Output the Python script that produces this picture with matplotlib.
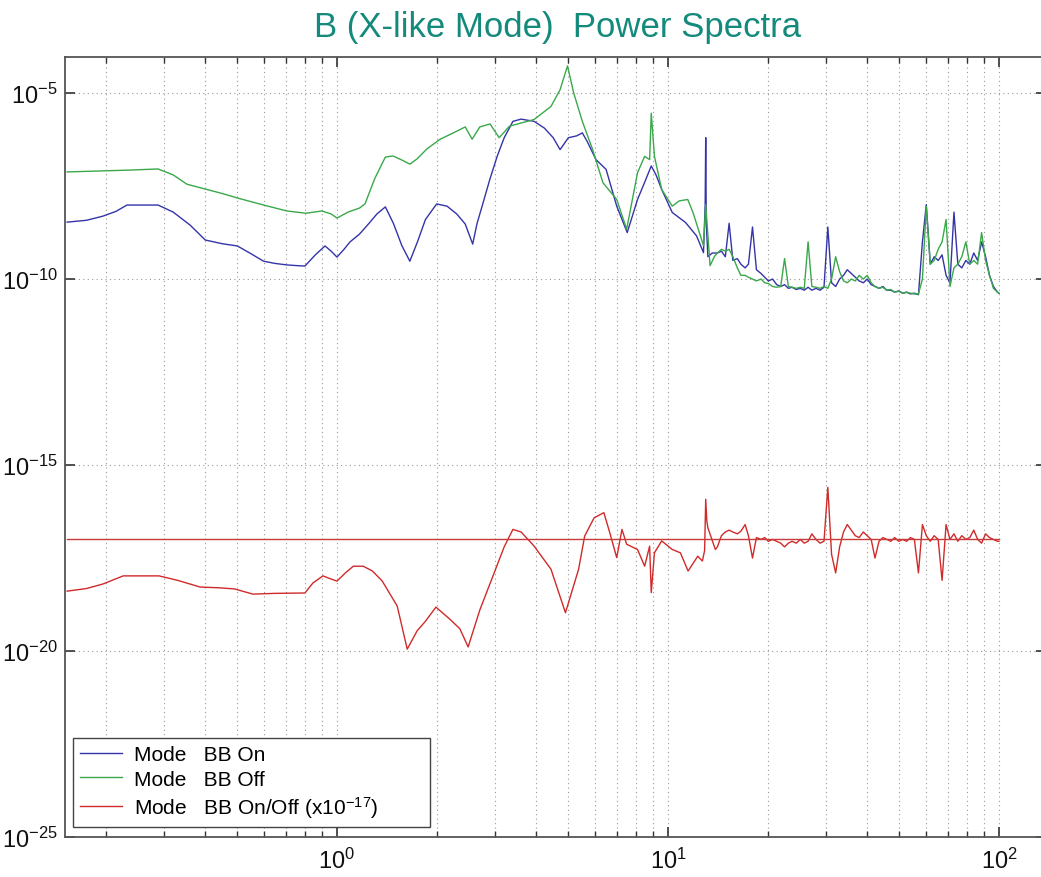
import numpy as np
import matplotlib
matplotlib.use("Agg")
import matplotlib.pyplot as plt
from matplotlib.ticker import LogLocator, NullLocator, FuncFormatter

plt.rcParams['font.family'] = ['Liberation Sans', 'DejaVu Sans']
plt.rcParams['mathtext.fontset'] = 'custom'
plt.rcParams['mathtext.rm'] = 'Liberation Sans'
plt.rcParams['mathtext.it'] = 'Liberation Sans'

# low frequency part of each curve (freq, log10 power)
blue_f = [0.153, 0.175, 0.196, 0.215, 0.232, 0.26, 0.288, 0.32, 0.36, 0.40, 0.45, 0.50, 0.55, 0.60,
          0.65, 0.706, 0.76, 0.80, 0.86, 0.92, 0.96, 1.0, 1.05, 1.095, 1.17, 1.25, 1.32, 1.40, 1.48,
          1.57, 1.66, 1.75, 1.85, 2.0, 2.15, 2.3, 2.44, 2.57, 2.65, 2.74, 2.9, 3.05, 3.2, 3.4, 3.6,
          3.94, 4.23, 4.5, 4.72, 5.0, 5.3, 5.51, 5.7, 6.06, 6.5, 7.0, 7.53, 8.09, 8.5, 8.9, 9.2, 9.57,
          10.3, 11.3, 12.2, 12.8, 12.95, 13.0, 13.05, 13.2, 13.6]
blue_lg = [-8.47, -8.42, -8.31, -8.18, -8.01, -8.01, -8.01, -8.2, -8.55, -8.95, -9.05, -9.11, -9.32, -9.52,
           -9.58, -9.62, -9.64, -9.65, -9.35, -9.11, -9.25, -9.41, -9.2, -9.0, -8.79, -8.5, -8.25, -8.06, -8.5,
           -9.1, -9.52, -9.0, -8.4, -7.98, -8.04, -8.25, -8.52, -9.06, -8.5, -8.06, -7.3, -6.69, -6.2, -5.76, -5.7,
           -5.76, -5.94, -6.2, -6.52, -6.2, -6.15, -6.07, -6.3, -6.79, -7.05, -8.04, -8.75, -7.86, -7.4, -6.96, -7.2, -7.59,
           -8.21, -8.48, -8.84, -9.29, -8.0, -6.2, -8.5, -9.4, -9.3]

green_f = [0.153, 0.237, 0.288, 0.32, 0.352, 0.40, 0.45, 0.50, 0.60, 0.706, 0.806, 0.90, 0.96, 1.0,
           1.08, 1.17, 1.215, 1.3, 1.40, 1.476, 1.57, 1.66, 1.745, 1.87, 2.05, 2.27, 2.44, 2.56, 2.70,
           2.9, 3.09, 3.32, 3.94, 4.43, 4.72, 4.97, 5.19, 5.51, 5.92, 6.36, 7.0, 7.5, 8.09, 8.5, 8.8,
           8.9, 9.1, 9.57, 10.3, 10.8, 11.47, 11.9, 12.8, 13.0, 13.4, 13.8]
green_lg = [-7.12, -7.07, -7.04, -7.2, -7.45, -7.58, -7.7, -7.82, -8.01, -8.17, -8.23, -8.17, -8.25, -8.36,
            -8.2, -8.09, -7.98, -7.3, -6.72, -6.69, -6.8, -6.91, -6.77, -6.5, -6.24, -6.05, -5.91, -6.24, -5.91,
            -5.83, -6.2, -5.89, -5.71, -5.36, -4.91, -4.27, -5.0, -5.76, -6.52, -7.41, -7.86, -8.66, -7.14, -6.70, -6.79,
            -5.54, -6.7, -7.59, -8.04, -7.9, -7.86, -8.21, -9.1, -8.0, -9.64, -9.4]

red_f = [0.153, 0.175, 0.196, 0.226, 0.26, 0.29, 0.33, 0.386, 0.44, 0.49, 0.557, 0.65, 0.80, 0.846,
         0.907, 0.95, 1.0, 1.06, 1.12, 1.2, 1.28, 1.37, 1.52, 1.63, 1.745, 1.85, 1.99, 2.19, 2.35, 2.49,
         2.7, 2.96, 3.2, 3.4, 3.6, 3.94, 4.43, 4.9, 5.37, 5.6, 5.98, 6.4, 6.67, 7.0, 7.26, 7.5, 8.09,
         8.5, 8.8, 8.9, 9.1, 9.57, 10.3, 10.9, 11.5, 12.3, 12.7, 12.9, 13.0, 13.1, 13.2, 13.9]
red_lg = [-18.39, -18.32, -18.2, -17.98, -17.98, -17.98, -18.1, -18.28, -18.3, -18.33, -18.47, -18.45, -18.44, -18.17,
          -17.98, -18.05, -18.12, -17.9, -17.72, -17.72, -17.85, -18.12, -18.79, -19.95, -19.46, -19.2, -18.82, -19.14, -19.4, -19.89,
          -18.9, -17.98, -17.2, -16.73, -16.8, -17.18, -17.8, -18.97, -17.8, -16.91, -16.42, -16.28, -16.82, -17.49, -16.73, -17.13, -17.27,
          -17.72, -17.18, -18.43, -17.36, -17.04, -17.27, -17.36, -17.85, -17.45, -17.58, -17.3, -15.92, -16.5, -16.69, -17.27]

# high frequency part, shared frequency list
hf_f = [14.1, 14.5, 14.9, 15.3, 15.7, 16.2, 16.6, 17.1, 17.5, 18.0, 18.5, 19.1, 19.6, 20.1, 20.7,
        21.3, 21.9, 22.5, 23.1, 23.7, 24.4, 25.1, 25.8, 26.5, 27.2, 28.0, 28.8, 29.6, 30.4, 31.2,
        32.1, 33.0, 33.9, 34.8, 35.8, 36.8, 37.8, 38.9, 40.0, 41.1, 42.2, 43.4, 44.6, 45.8, 47.1,
        48.4, 49.8, 51.2, 52.6, 54.0, 55.5, 57.1, 58.7, 60.3, 62.0, 63.7, 65.5, 67.3, 69.2, 71.1,
        73.1, 75.1, 77.2, 79.4, 81.6, 83.9, 86.2, 88.6, 91.1, 93.6, 96.2, 98.9, 100.0]
blue_hf = [-9.3, -9.25, -9.4, -8.5, -9.5, -9.45, -9.6, -9.7, -9.6, -8.6, -9.75, -9.85, -9.95, -10.05, -10.0,
           -10.15, -10.2, -10.15, -10.25, -10.22, -10.28, -10.25, -10.3, -10.22, -10.3, -10.25, -10.3, -10.22, -8.6, -10.1,
           -10.2, -10.0, -9.9, -9.75, -9.85, -9.95, -10.05, -10.1, -10.0, -10.15, -10.2, -10.25, -10.2, -10.3, -10.3,
           -10.35, -10.32, -10.38, -10.35, -10.4, -10.38, -10.42, -9.0, -8.0, -9.6, -9.4, -9.5, -9.35, -9.9, -10.1,
           -8.2, -9.6, -9.7, -9.5, -9.6, -9.3, -9.5, -9.0, -9.4, -9.9, -10.2, -10.35, -10.38]
green_hf = [-9.3, -9.2, -9.25, -9.2, -9.4, -9.7, -9.9, -9.9, -9.95, -10.0, -10.05, -10.0, -10.1, -10.12, -10.2,
            -10.22, -10.2, -9.45, -10.2, -10.22, -10.25, -10.22, -10.25, -9.0, -10.2, -10.22, -10.25, -10.2, -10.25, -10.0,
            -9.4, -9.8, -10.05, -10.1, -10.0, -10.05, -9.9, -10.0, -9.9, -10.1, -10.2, -10.25, -10.22, -10.3, -10.28,
            -10.35, -10.33, -10.38, -10.36, -10.38, -10.4, -10.4, -10.0, -8.05, -9.6, -9.5, -9.2, -9.0, -8.4, -10.2,
            -9.7, -9.6, -9.4, -9.0, -9.6, -9.5, -9.6, -8.75, -9.5, -9.9, -10.25, -10.35, -10.38]
red_hf = [-17.2, -16.9, -16.8, -16.75, -16.8, -16.85, -16.78, -16.6, -16.9, -17.5, -16.95, -17.0, -16.95, -17.05, -17.0,
          -17.05, -17.1, -17.2, -17.1, -17.05, -17.1, -17.0, -17.1, -17.05, -16.85, -17.0, -17.1, -17.05, -15.6, -17.4,
          -17.9, -17.2, -16.8, -16.6, -16.75, -16.9, -16.95, -16.8, -16.9, -17.0, -17.5, -17.05, -16.95, -17.0, -17.05,
          -16.95, -17.05, -17.0, -17.05, -16.95, -17.0, -17.9, -16.6, -16.9, -17.05, -16.9, -17.0, -18.1, -16.6, -17.0,
          -16.85, -17.05, -16.9, -17.0, -16.95, -16.75, -17.0, -17.1, -16.85, -16.95, -17.0, -17.05, -17.05]

ratio_level = 1e-17
labels = ["Mode   BB On", "Mode   BB Off", r"Mode   BB On/Off (x10$^{-17}$)"]
colors = ["#3434a8", "#3aa84a", "#d02a2a"]

fig = plt.figure(figsize=(10.41, 8.78), dpi=100)
ax = fig.add_axes([65/1041, 40/878, (1046-65)/1041, 780/878])

series = [(blue_f, blue_lg, blue_hf), (green_f, green_lg, green_hf), (red_f, red_lg, red_hf)]
for (f, lg, hf), c, lab in zip(series, colors, labels):
    x = np.array(f + hf_f)
    y = 10.0 ** np.array(lg + hf)
    ax.plot(x, y, color=c, lw=1.0, label=lab)

ax.plot([blue_f[0], hf_f[-1]], [ratio_level, ratio_level], color="#c83a3a", lw=1.0)

ax.set_xscale('log')
ax.set_yscale('log')
ax.set_xlim(10**(-272/331), 10**((1046-337)/331))
ax.set_ylim(1e-25, 10**-4.03)

ax.set_yticks([1e-25, 1e-20, 1e-15, 1e-10, 1e-5])
ax.yaxis.set_minor_locator(NullLocator())
ax.xaxis.set_major_locator(LogLocator(base=10))
ax.xaxis.set_minor_locator(LogLocator(base=10, subs=np.arange(2, 10)))
ax.xaxis.set_minor_formatter(FuncFormatter(lambda v, p: ""))

fmt = FuncFormatter(lambda v, p: r"$\mathregular{10^{%d}}$" % int(round(np.log10(v))))
ax.xaxis.set_major_formatter(fmt)
ax.yaxis.set_major_formatter(fmt)

ax.tick_params(which='both', direction='in', top=True, right=True, colors='#333333',
               labelsize=17, labelcolor='#111111')
ax.tick_params(which='major', length=7, width=1.2)
ax.tick_params(which='minor', length=4, width=1.0)
ax.tick_params(axis='x', pad=8)
ax.tick_params(axis='y', pad=5)

ax.grid(True, which='both', axis='x', color='#999999', linestyle=(0, (1, 3)), lw=0.8)
ax.grid(True, which='major', axis='y', color='#999999', linestyle=(0, (1, 3)), lw=0.8)
for s in ax.spines.values():
    s.set_color('#555555')
    s.set_linewidth(1.3)

leg = ax.legend(loc='lower left', bbox_to_anchor=(73/1041, 50/878, 357/1041, 95/878),
                bbox_transform=fig.transFigure, mode='expand', borderaxespad=0,
                fontsize=15, handlelength=2.0, handletextpad=0.6, labelspacing=0.25,
                fancybox=False, framealpha=1, edgecolor='#444444', borderpad=0.35)
leg.get_frame().set_linewidth(1.0)

fig.text(558/1041, 1 - 28/878, "B (X-like Mode)  Power Spectra", ha='center', va='center',
         fontsize=25, color='#148a7c')

fig.savefig("out.png", dpi=100)
